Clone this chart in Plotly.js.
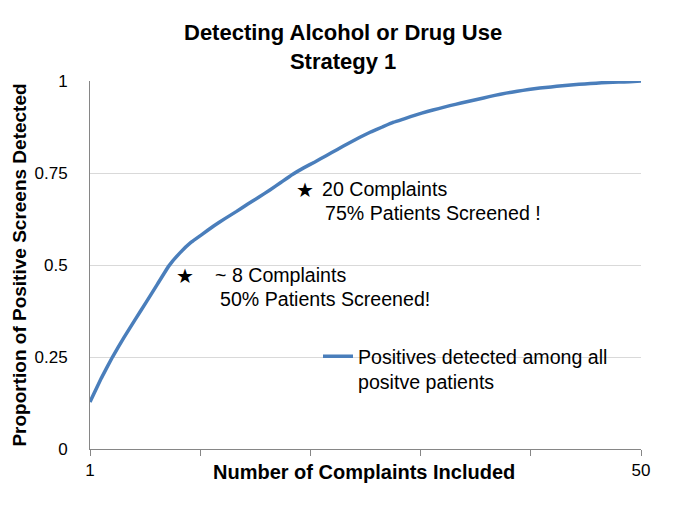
<!DOCTYPE html>
<html>
<head>
<meta charset="utf-8">
<script src="https://cdn.plot.ly/plotly-3.0.1.min.js"></script>
<style>html,body{margin:0;padding:0;background:#fff;}#chart{width:685px;height:513px;}</style>
</head>
<body>
<div id="chart"></div>
<script>
const complaints = [1,2,3,4,5,6,7,8,9,10,11,12,13,14,15,16,17,18,19,20,21,22,23,24,25,26,27,28,29,30,31,32,33,34,35,36,37,38,39,40,41,42,43,44,45,46,47,48,49,50];
const proportionDetected = [0.128,0.192,0.25,0.302,0.351,0.399,0.448,0.497,0.533,0.562,0.584,0.606,0.626,0.645,0.665,0.684,0.704,0.725,0.746,0.764,0.780,0.797,0.814,0.831,0.847,0.862,0.875,0.888,0.898,0.908,0.917,0.925,0.933,0.94,0.947,0.954,0.961,0.967,0.972,0.977,0.981,0.984,0.987,0.99,0.992,0.994,0.996,0.997,0.998,1.0];
const seriesName = 'Positives detected among all<br>positve patients';
const xTickVals = [1,10.8,20.6,30.4,40.2,50];
const xTickText = ['1','','','','','50'];
const yTickVals = [0,0.25,0.5,0.75,1];
const yTickText = ['0','0.25','0.5','0.75','1'];
const noteX = [20.1, 9.45];
const noteY = [0.704, 0.470];
const noteLine1 = ['20 Complaints', '~ 8 Complaints'];
const noteLine2 = ['75% Patients Screened !', '50% Patients Screened!'];

const FONT = 'Liberation Sans, Arial, sans-serif';
const line1Shift = [15, 28];
const line2Shift = [18, 33];
const annotations = [];
for (let i = 0; i < noteX.length; i++) {
  annotations.push({x: noteX[i], y: noteY[i], xref: 'x', yref: 'y', text: '★', showarrow: false,
    font: {family: 'DejaVu Sans, sans-serif', size: 20, color: '#000'}, xanchor: 'center', yanchor: 'middle'});
  annotations.push({x: noteX[i], y: noteY[i], xref: 'x', yref: 'y', text: noteLine1[i], showarrow: false,
    font: {family: FONT, size: 19.6, color: '#000'}, xanchor: 'left', yanchor: 'middle', xshift: line1Shift[i], yshift: 1});
  annotations.push({x: noteX[i], y: noteY[i], xref: 'x', yref: 'y', text: noteLine2[i], showarrow: false,
    font: {family: FONT, size: 19.6, color: '#000'}, xanchor: 'left', yanchor: 'middle', xshift: line2Shift[i], yshift: -23});
}
annotations.push({x: 0.498, y: 0, xref: 'paper', yref: 'paper', yshift: -23, text: '<b>Number of Complaints Included</b>',
  showarrow: false, font: {family: FONT, size: 20, color: '#000'}, xanchor: 'center', yanchor: 'middle'});
annotations.push({x: 0.46, y: 1, xref: 'paper', yref: 'paper', yshift: 34, text: '<b>Detecting Alcohol or Drug Use<br>Strategy 1</b>',
  showarrow: false, font: {family: FONT, size: 22, color: '#000'}, xanchor: 'center', yanchor: 'middle'});

const data = [{
  x: complaints, y: proportionDetected, type: 'scatter', mode: 'lines', name: seriesName,
  line: {color: '#4A7EBB', width: 3.5, shape: 'spline', smoothing: 0.3}
}];

const layout = {
  width: 685, height: 513,
  margin: {l: 90, r: 44, t: 81, b: 64},
  paper_bgcolor: '#fff', plot_bgcolor: '#fff',
  font: {family: FONT, color: '#000'},
  showlegend: true,
  legend: {x: (318 - 90) / 551, y: (449 - 337) / 368, xanchor: 'left', yanchor: 'top', valign: 'top',
    font: {family: FONT, size: 19.6, color: '#000'}, bgcolor: 'rgba(0,0,0,0)', itemwidth: 30},
  xaxis: {range: [1, 50], tickvals: xTickVals, ticktext: xTickText, ticks: 'outside', ticklen: 6,
    tickcolor: '#868686', tickwidth: 1, showline: true, linecolor: '#868686', linewidth: 1,
    showgrid: false, zeroline: false, tickfont: {family: FONT, size: 17, color: '#000'}, fixedrange: true},
  yaxis: {range: [0, 1], tickvals: yTickVals, ticktext: yTickText, ticks: '', showline: true,
    linecolor: '#868686', linewidth: 1, showgrid: true, gridcolor: '#d9d9d9', gridwidth: 1, zeroline: false,
    tickfont: {family: FONT, size: 17, color: '#000'}, ticklabelstandoff: 18,
    title: {text: '<b>Proportion of Positive Screens Detected</b>', font: {family: FONT, size: 19, color: '#000'}, standoff: 2}},
  annotations: annotations
};

Plotly.newPlot('chart', data, layout, {displayModeBar: false, staticPlot: true});
</script>
</body>
</html>
